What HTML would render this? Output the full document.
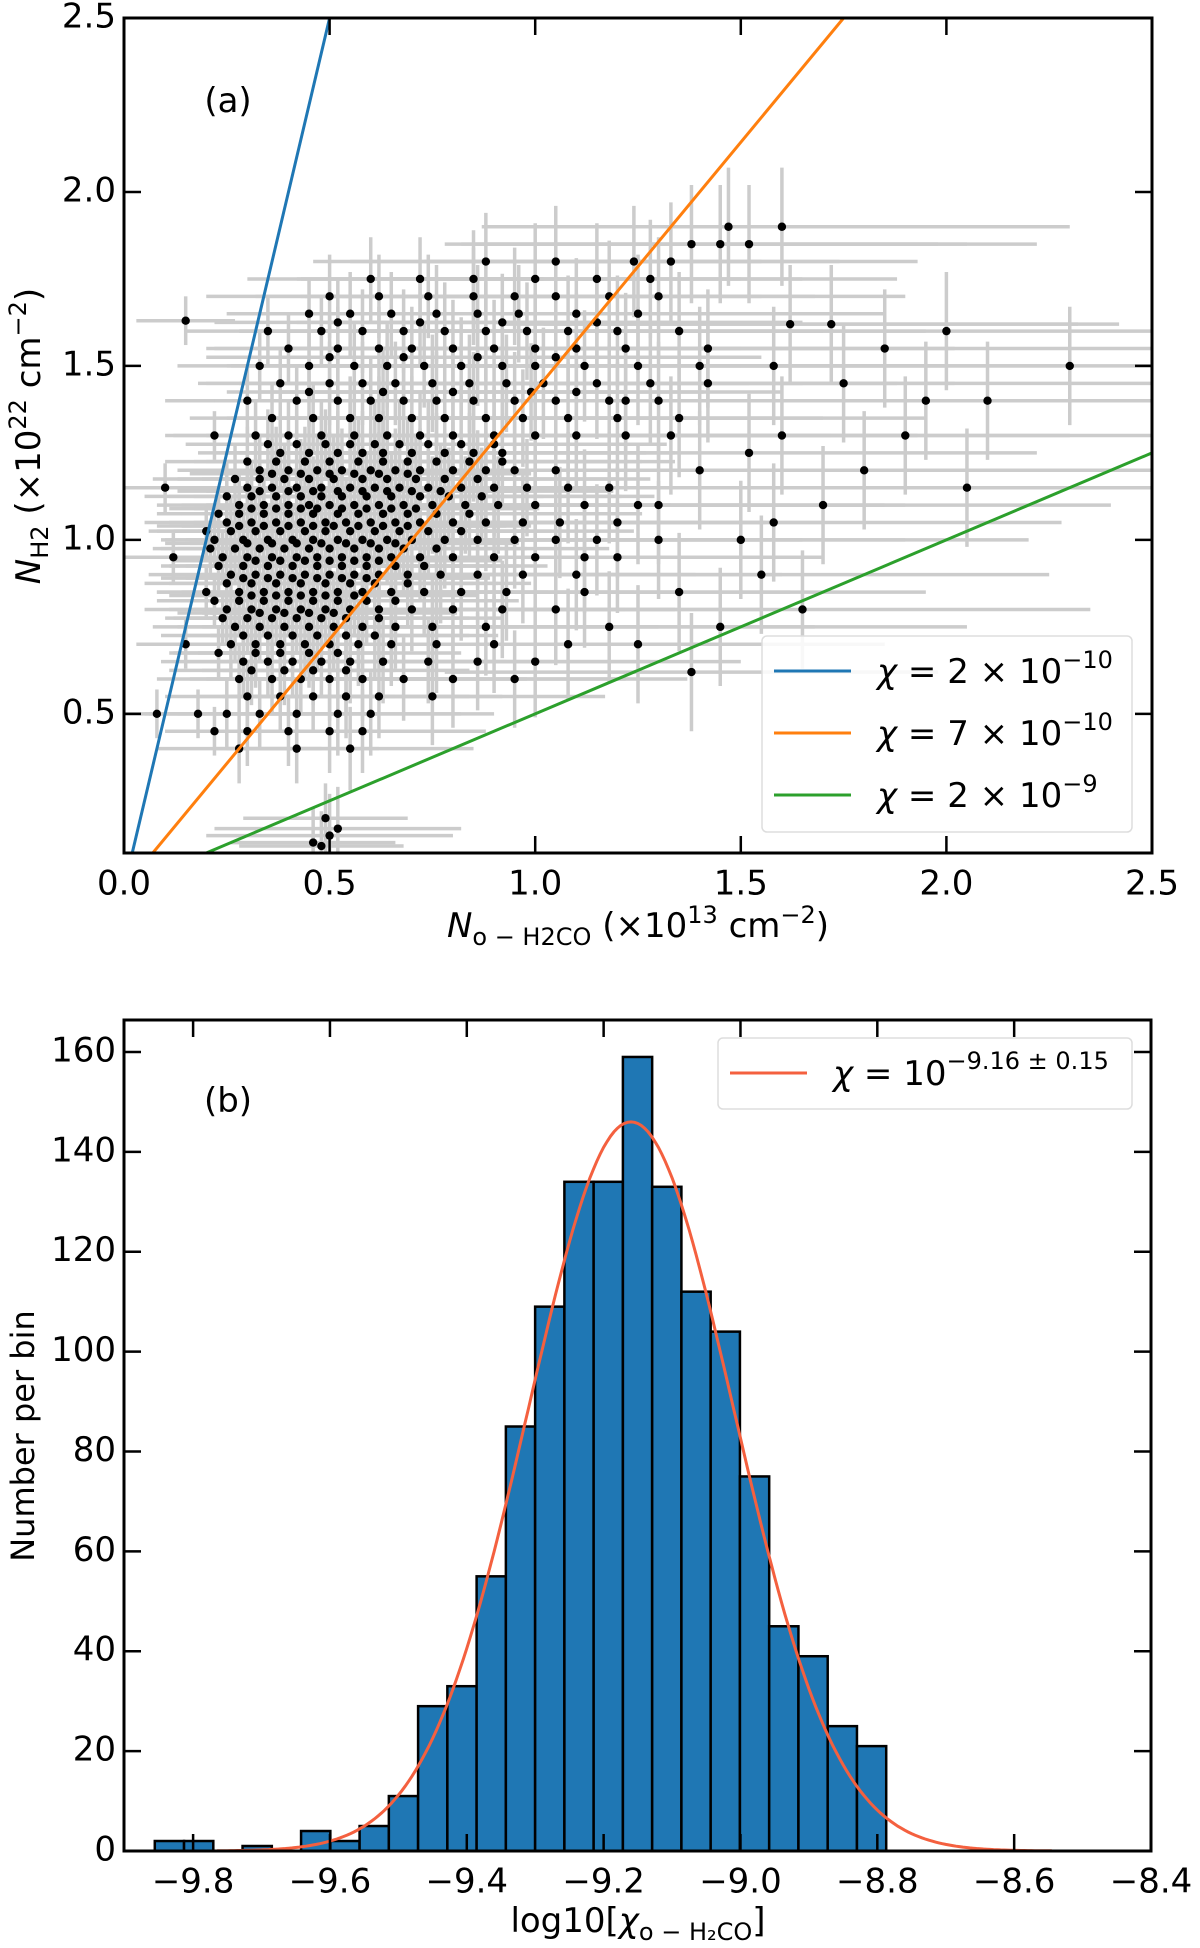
<!DOCTYPE html>
<html><head><meta charset="utf-8">
<style>
html,body{margin:0;padding:0;background:#fff;}
svg{display:block;font-family:"DejaVu Sans","Liberation Sans",sans-serif;}
</style></head>
<body>
<svg id="fig" width="1200" height="1948" viewBox="0 0 1200 1948" xmlns="http://www.w3.org/2000/svg">
<g id="panelA"></g>
<g id="panelB"></g>
</svg>
<script>
// ---------- Panel (a) data ----------
const scatterRows = [
 [1.25,[.38,.45,.52,.58,.63,.70,.78,.85,.92]],
 [1.2,[.33,.40,.47,.53,.60,.66,.72,.80,.88,.95,1.05]],
 [1.15,[.30,.36,.42,.48,.55,.61,.67,.74,.82,.90,.98,1.08,1.18]],
 [1.1,[.28,.34,.40,.45,.50,.56,.62,.68,.75,.83,.91,1.0,1.12,1.25]],
 [1.05,[.25,.31,.37,.43,.49,.54,.60,.66,.72,.80,.88,.97,1.06,1.2]],
 [1.0,[.22,.29,.35,.41,.46,.52,.58,.64,.70,.78,.86,.95,1.05,1.15,1.3]],
 [0.95,[.24,.30,.36,.42,.47,.53,.59,.65,.72,.80,.90,1.0,1.12]],
 [0.9,[.26,.32,.38,.44,.50,.56,.62,.69,.77,.86,.97,1.1]],
 [0.85,[.28,.34,.40,.46,.52,.58,.65,.73,.82,.93]],
 [0.8,[.25,.31,.37,.43,.49,.55,.62,.70,.80,.92,1.05]],
 [0.75,[.27,.33,.39,.45,.51,.58,.66,.75,.88]],
 [0.7,[.26,.32,.38,.44,.50,.57,.65,.76,.90]],
 [0.65,[.29,.35,.41,.48,.55,.63,.74,.86]],
 [0.6,[.28,.36,.43,.50,.58,.68,.80]],
 [0.55,[.30,.38,.46,.54,.62,.75]],
 [0.5,[.25,.33,.42,.52,.60]],
 [0.45,[.22,.30,.40,.50,.58]],
 [0.4,[.28,.42,.55]],
 [1.3,[.32,.40,.48,.56,.64,.72,.80,.90,1.0,1.1,1.22]],
 [1.35,[.36,.46,.55,.62,.70,.78,.88,.97,1.08,1.2,1.35]],
 [1.4,[.30,.42,.52,.60,.68,.76,.85,.95,1.05,1.18,1.3]],
 [1.45,[.38,.50,.58,.66,.75,.84,.93,1.02,1.15,1.28,1.42]],
 [1.5,[.33,.45,.56,.64,.73,.82,.92,1.0,1.12,1.25,1.4,1.58]],
 [1.55,[.40,.52,.62,.70,.80,.90,1.0,1.1,1.22]],
 [1.6,[.35,.48,.58,.68,.78,.88,.98,1.08,1.2,1.35]],
 [1.65,[.45,.55,.65,.76,.86,.96,1.1,1.25]],
 [1.7,[.50,.62,.74,.85,.95,1.05,1.18,1.3]],
 [1.75,[.60,.72,.85,1.0,1.15,1.28]],
 [1.8,[.88,1.05,1.24,1.33]],
 [1.85,[1.38,1.45,1.52]],
 [1.9,[1.47,1.60]],
 [1.275,[.35,.42,.49,.55,.61,.67,.74,.82,.9]],
 [1.225,[.30,.37,.44,.50,.57,.63,.69,.76,.84,.92]],
 [1.175,[.27,.33,.39,.45,.51,.58,.64,.71,.78,.86]],
 [1.125,[.25,.31,.37,.43,.48,.53,.59,.65,.72,.79,.87]],
 [1.075,[.23,.28,.34,.40,.46,.52,.57,.63,.69,.76,.84]],
 [1.025,[.20,.26,.32,.38,.44,.49,.55,.61,.67,.74,.82]],
 [0.975,[.21,.27,.33,.39,.45,.50,.56,.62,.68,.76]],
 [0.925,[.23,.29,.35,.41,.47,.53,.59,.66,.73]],
 [0.875,[.25,.31,.37,.43,.49,.55,.61,.69]],
 [0.825,[.22,.28,.34,.40,.46,.52,.59,.66]],
 [0.775,[.24,.30,.36,.42,.48,.54,.62]],
 [0.725,[.29,.35,.41,.47,.54,.61]],
 [0.675,[.23,.32,.38,.45,.52]],
 [0.625,[.31,.39,.46,.54]],
 [1.425,[.45,.63,.80,.99,1.1]],
 [1.525,[.5,.68,.86,1.05]],
 [1.625,[.52,.72,.92,1.15]],
 [1.19,[.36,.43,.50,.56,.62,.69]],
 [1.14,[.33,.40,.46,.52,.58,.64,.70,.77]],
 [1.09,[.31,.37,.43,.47,.53,.59,.65,.71]],
 [1.04,[.28,.34,.40,.46,.51,.57,.63,.69]],
 [0.99,[.30,.36,.42,.48,.54,.60,.66]],
 [0.94,[.32,.38,.44,.50,.56,.62]],
 [0.89,[.29,.35,.41,.47,.53,.59]],
 [0.84,[.31,.37,.43,.49,.56]],
 [0.79,[.33,.39,.45,.51]]
];
const extraX = [1.2,1.3,1.35,1.4,1.45,1.5,1.55,1.6,1.65,1.7,1.75,1.8,1.85,1.9,1.95,2.0,2.05,2.1,2.3,1.25,1.38,1.52,1.62,1.72,1.58,1.42,1.33,1.22,1.12,1.18,1.08,1.0,0.95,0.15,0.1,0.12,0.15,0.18,0.08,0.2,0.22,0.48,0.5,0.52,0.49,0.46];
const extraY = [0.95,1.1,0.85,1.2,0.75,1.0,0.9,1.3,0.8,1.1,1.45,1.2,1.55,1.3,1.4,1.6,1.15,1.4,1.5,0.7,0.62,1.25,1.62,1.62,1.05,1.55,1.3,1.4,0.85,0.75,0.7,0.65,0.6,1.63,1.15,0.95,0.7,0.5,0.5,0.85,1.3,0.12,0.15,0.17,0.2,0.13];
const xerrByBin = [0.12,0.2,0.3,0.42,0.5,0.6,0.7,0.75,0.8,0.8];   // per 0.25 bin of x
const yerrByBin = [0.07,0.1,0.12,0.14,0.16,0.17,0.17,0.17,0.17,0.17];
const ratioLines = [{chi:"2 × 10",exp:"−10",k:5.0,color:"#1f77b4"},{chi:"7 × 10",exp:"−10",k:1/0.7,color:"#ff7f0e"},{chi:"2 × 10",exp:"−9",k:0.5,color:"#2ca02c"}];
const aXTicks = [0.0,0.5,1.0,1.5,2.0,2.5];
const aYTicks = [0.5,1.0,1.5,2.0,2.5];

// ---------- Panel (b) data ----------
const binStart = -9.856, binWidth = 0.04276;
const binCounts = [2,2,0,1,0,4,2,5,11,29,33,55,85,109,134,134,159,133,112,104,75,45,39,25,21];
const fitAmp = 146, fitMu = -9.16, fitSigma = 0.15;
const bXTicks = [-9.8,-9.6,-9.4,-9.2,-9.0,-8.8,-8.6,-8.4];
const bYTicks = [0,20,40,60,80,100,120,140,160];

const NS="http://www.w3.org/2000/svg";
function mk(parent,tag,attrs,text){const e=document.createElementNS(NS,tag);for(const k in attrs)e.setAttribute(k,attrs[k]);if(text!==undefined)e.textContent=text;parent.appendChild(e);return e;}

// ---- Panel A ----
const A={l:124,r:1152,t:18,b:853,x0:0,x1:2.5,y0:0.1,y1:2.5};
const ax=v=>A.l+(v-A.x0)/(A.x1-A.x0)*(A.r-A.l);
const ay=v=>A.b-(v-A.y0)/(A.y1-A.y0)*(A.b-A.t);
const gA=document.getElementById('panelA');
const cp=mk(mk(gA,'defs',{}),'clipPath',{id:'clipA'});
mk(cp,'rect',{x:A.l,y:A.t,width:A.r-A.l,height:A.b-A.t});
const pts=[];
scatterRows.forEach(r=>r[1].forEach(x=>pts.push([x,r[0]])));
extraX.forEach((x,i)=>pts.push([x,extraY[i]]));
const errG=mk(gA,'g',{'clip-path':'url(#clipA)',stroke:'#cccccc','stroke-width':3.5});


pts.forEach(p=>{
  const bi=Math.min(9,Math.floor(p[0]/0.25));
  const xe=xerrByBin[bi], ye=yerrByBin[bi];
  mk(errG,'line',{x1:ax(p[0]-xe),x2:ax(p[0]+xe),y1:ay(p[1]),y2:ay(p[1])});
  mk(errG,'line',{x1:ax(p[0]),x2:ax(p[0]),y1:ay(p[1]-ye),y2:ay(p[1]+ye)});
});
const dotG=mk(gA,'g',{'clip-path':'url(#clipA)',fill:'#000'});


pts.forEach(p=>{const c=mk(dotG,'circle',{cx:ax(p[0]),cy:ay(p[1]),r:4.2});
  
  });
const lineG=mk(gA,'g',{'clip-path':'url(#clipA)'});
ratioLines.forEach(L=>{
  const x0=A.y0/L.k, xEnd=Math.min(A.x1,A.y1/L.k);
  const ln=mk(lineG,'line',{x1:ax(x0),y1:ay(A.y0),x2:ax(xEnd),y2:ay(xEnd*L.k),stroke:L.color,'stroke-width':3});
  
  
});
function frame(g,P,xt,yt,fx,fy,fmtx,fmty){
  mk(g,'rect',{x:P.l,y:P.t,width:P.r-P.l,height:P.b-P.t,fill:'none',stroke:'#000','stroke-width':3});
  xt.forEach(v=>{const X=fx(v);
    mk(g,'line',{x1:X,x2:X,y1:P.b,y2:P.b-17,stroke:'#000','stroke-width':2.5});
    mk(g,'line',{x1:X,x2:X,y1:P.t,y2:P.t+17,stroke:'#000','stroke-width':2.5});
    const t=mk(g,'text',{x:X,y:P.b+32,'font-size':34,'text-anchor':'middle','dominant-baseline':'middle'},fmtx(v));
    
    });
  yt.forEach(v=>{const Y=fy(v);
    mk(g,'line',{x1:P.l,x2:P.l+17,y1:Y,y2:Y,stroke:'#000','stroke-width':2.5});
    mk(g,'line',{x1:P.r,x2:P.r-17,y1:Y,y2:Y,stroke:'#000','stroke-width':2.5});
    const t=mk(g,'text',{x:P.l-8,y:Y,'font-size':34,'text-anchor':'end','dominant-baseline':'middle'},fmty(v));
    
    });
}
frame(gA,A,aXTicks,aYTicks,ax,ay,v=>v.toFixed(1),v=>v.toFixed(1));
// legend A
const legA=mk(gA,'g',{});


mk(legA,'rect',{x:762,y:636,width:370,height:196,rx:5,fill:'#fff','fill-opacity':0.85,stroke:'#dddddd','stroke-width':1.5});
ratioLines.forEach((L,i)=>{const y=671+i*62;
  mk(legA,'line',{x1:774,x2:851,y1:y,y2:y,stroke:L.color,'stroke-width':3});
  const t=mk(legA,'text',{x:877,y:y+12,'font-size':34});
  mk(t,'tspan',{'font-style':'italic'},'χ');
  mk(t,'tspan',{},' = '+L.chi);
  mk(t,'tspan',{dy:-15,'font-size':24},L.exp);
  
  
});
mk(gA,'text',{x:228,y:112,'font-size':34,'text-anchor':'middle'},'(a)');
const xlA=mk(gA,'text',{x:638,y:937,'font-size':34,'text-anchor':'middle'});


mk(xlA,'tspan',{'font-style':'italic'},'N');
mk(xlA,'tspan',{dy:8,'font-size':24},'o − H2CO');
mk(xlA,'tspan',{dy:-8},' (×10');
mk(xlA,'tspan',{dy:-14,'font-size':24},'13');
mk(xlA,'tspan',{dy:14},' cm');
mk(xlA,'tspan',{dy:-14,'font-size':24},'−2');
mk(xlA,'tspan',{dy:14},')');
const ylA=mk(gA,'text',{x:0,y:0,'font-size':34,'text-anchor':'middle',transform:'translate(40,436) rotate(-90)'});


mk(ylA,'tspan',{'font-style':'italic'},'N');
mk(ylA,'tspan',{dy:8,'font-size':24},'H2');
mk(ylA,'tspan',{dy:-8},' (×10');
mk(ylA,'tspan',{dy:-14,'font-size':24},'22');
mk(ylA,'tspan',{dy:14},' cm');
mk(ylA,'tspan',{dy:-14,'font-size':24},'−2');
mk(ylA,'tspan',{dy:14},')');

// ---- Panel B ----
const B={l:124,r:1151,t:1020,b:1851,x0:-9.901,x1:-8.4,y0:0,y1:166.4};
const bx=v=>B.l+(v-B.x0)/(B.x1-B.x0)*(B.r-B.l);
const by=v=>B.b-(v-B.y0)/(B.y1-B.y0)*(B.b-B.t);
const gB=document.getElementById('panelB');
const barG=mk(gB,'g',{fill:'#1f77b4',stroke:'#000','stroke-width':2.5});
binCounts.forEach((c,i)=>{
  if(c<=0)return;
  const x0=binStart+i*binWidth;
  const r=mk(barG,'rect',{x:bx(x0),y:by(c),width:bx(x0+binWidth)-bx(x0),height:by(0)-by(c)});
  
  
});
let d='';
for(let v=-9.765;v<=-8.54;v+=0.005){const y=fitAmp*Math.exp(-0.5*Math.pow((v-fitMu)/fitSigma,2));d+=(d?'L':'M')+bx(v).toFixed(1)+','+by(y).toFixed(1);}
const curve=mk(gB,'path',{d:d,fill:'none',stroke:'#f4603f','stroke-width':3});


frame(gB,B,bXTicks,bYTicks,bx,by,v=>'−'+Math.abs(v).toFixed(1),v=>String(v));
const legB=mk(gB,'g',{});


mk(legB,'rect',{x:718,y:1038,width:414,height:71,rx:5,fill:'#fff',stroke:'#dddddd','stroke-width':1.5});
mk(legB,'line',{x1:730,x2:807,y1:1073,y2:1073,stroke:'#f4603f','stroke-width':3});
const tB=mk(legB,'text',{x:833,y:1085,'font-size':34});
mk(tB,'tspan',{'font-style':'italic'},'χ');
mk(tB,'tspan',{},' = 10');
mk(tB,'tspan',{dy:-16,'font-size':24},'−9.16 ± 0.15');
mk(gB,'text',{x:228,y:1112,'font-size':34,'text-anchor':'middle'},'(b)');
const xlB=mk(gB,'text',{x:638,y:1932,'font-size':34,'text-anchor':'middle'});


mk(xlB,'tspan',{},'log10[');
mk(xlB,'tspan',{'font-style':'italic'},'χ');
mk(xlB,'tspan',{dy:8,'font-size':24},'o − H₂CO');
mk(xlB,'tspan',{dy:-8},']');
const ylB=mk(gB,'text',{x:0,y:0,'font-size':32,'text-anchor':'middle',transform:'translate(34,1436) rotate(-90)'},'Number per bin');


</script>
</body></html>
